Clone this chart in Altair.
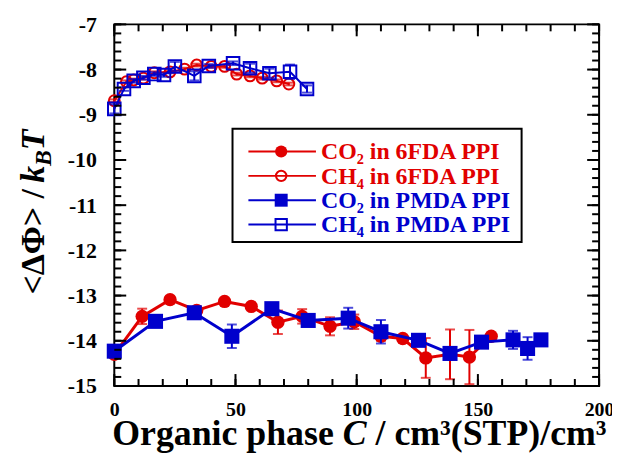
import altair as alt
import pandas as pd

# CO2 in 6FDA PPI (filled red circles)
co2_6fda_x = [0, 11.5, 23, 34, 45.5, 56.5, 67.5, 77.5, 89, 99, 110, 119, 128.5, 138.5, 146.5, 155.5]
co2_6fda_y = [-14.3, -13.46, -13.09, -13.33, -13.13, -13.24, -13.59, -13.46, -13.68, -13.58,
              -13.9, -13.95, -14.38, -14.3, -14.36, -13.9]
co2_6fda_err = [0.05, 0.17, 0.04, 0.04, 0.04, 0.04, 0.26, 0.16, 0.2, 0.16, 0.1, 0.04, 0.44, 0.55, 0.6, 0.04]

# CH4 in 6FDA PPI (open red circles)
ch4_6fda_x = [0, 5, 8, 12, 16.5, 23, 29, 34, 40, 45.5, 50.5, 56, 61, 67, 72]
ch4_6fda_y = [-8.69, -8.27, -8.23, -8.19, -8.07, -8.05, -7.99, -7.9, -7.93, -7.93,
              -8.1, -8.14, -8.19, -8.25, -8.32]
ch4_6fda_err = [0.03] * 15

# CO2 in PMDA PPI (filled blue squares)
co2_pmda_x = [0, 17, 33, 48.5, 65, 80, 96.5, 110, 125.5, 138.5, 151.5, 164.5, 170.5, 176]
co2_pmda_y = [-14.23, -13.57, -13.38, -13.9, -13.29, -13.55, -13.5, -13.8, -13.99, -14.28,
              -14.03, -13.98, -14.17, -13.98]
co2_pmda_err = [0.05, 0.04, 0.04, 0.26, 0.04, 0.04, 0.23, 0.26, 0.04, 0.04, 0.04, 0.2, 0.25, 0.04]

# CH4 in PMDA PPI (open blue squares)
ch4_pmda_x = [0, 4, 8, 12, 16.5, 20.5, 25, 33, 39, 49, 56, 64, 72.5, 79.5]
ch4_pmda_y = [-8.87, -8.43, -8.25, -8.18, -8.1, -8.12, -7.93, -8.14, -7.92, -7.86,
              -7.97, -8.08, -8.05, -8.43]
ch4_pmda_err = [0.1, 0.04, 0.04, 0.04, 0.04, 0.04, 0.1, 0.1, 0.04, 0.04, 0.1, 0.1, 0.16, 0.08]

x_major = [0, 50, 100, 150, 200]
x_minor = list(range(0, 201, 10))
y_major = [-15, -14, -13, -12, -11, -10, -9, -8, -7]
y_minor = [v / 10 for v in range(-150, -69, 2)]

legend_labels = ["CO₂ in 6FDA PPI", "CH₄ in 6FDA PPI", "CO₂ in PMDA PPI", "CH₄ in PMDA PPI"]

RED = "#e10000"
BLUE = "#0000cc"
FONT = "Liberation Serif"
W, H = 488, 364

x_scale = alt.Scale(domain=[0, 200], nice=False, zero=False)
y_scale = alt.Scale(domain=[-15, -7], nice=False, zero=False)
x_axis = alt.Axis(values=x_major, ticks=False, domain=False, grid=False, title=None,
                  labelFont=FONT, labelFontWeight="bold", labelFontSize=20,
                  labelPadding=14, labelColor="black", labelFlush=False)
y_axis = alt.Axis(values=y_major, ticks=False, domain=False, grid=False, title=None,
                  labelFont=FONT, labelFontWeight="bold", labelFontSize=22,
                  labelPadding=18, labelColor="black", labelFlush=False,
                  labelExpr="'' + datum.value")


def series(x, y, err, color, shape, filled, size, line_w):
    df = pd.DataFrame({"x": x, "y": y, "err": err})
    base = alt.Chart(df).transform_calculate(
        lo="datum.y - datum.err", hi="datum.y + datum.err")
    X = alt.X("x:Q", scale=x_scale, axis=x_axis)
    line = base.mark_line(color=color, strokeWidth=line_w).encode(
        X, alt.Y("y:Q", scale=y_scale, axis=y_axis))
    bar = base.mark_rule(color=color, strokeWidth=2).encode(
        X, alt.Y("lo:Q", scale=y_scale, axis=y_axis), alt.Y2("hi:Q"))
    cap_lo = base.mark_tick(color=color, thickness=2, size=10, orient="horizontal").encode(
        X, alt.Y("lo:Q", scale=y_scale, axis=y_axis))
    cap_hi = base.mark_tick(color=color, thickness=2, size=10, orient="horizontal").encode(
        X, alt.Y("hi:Q", scale=y_scale, axis=y_axis))
    pts = base.mark_point(shape=shape, filled=filled, color=color, size=size,
                          strokeWidth=2, opacity=1).encode(
        X, alt.Y("y:Q", scale=y_scale, axis=y_axis))
    return [line, bar, cap_lo, cap_hi, pts]


layers = []
layers += series(co2_6fda_x, co2_6fda_y, co2_6fda_err, RED, "circle", True, 180, 3)
layers += series(ch4_6fda_x, ch4_6fda_y, ch4_6fda_err, RED, "circle", False, 120, 2)
layers += series(co2_pmda_x, co2_pmda_y, co2_pmda_err, BLUE, "square", True, 230, 3)
layers += series(ch4_pmda_x, ch4_pmda_y, ch4_pmda_err, BLUE, "square", False, 160, 2)

# inward ticks on all four sides
def xticks(vals, length):
    df = pd.DataFrame({"v": vals})
    X = alt.X("v:Q", scale=x_scale, axis=x_axis)
    bot = alt.Chart(df).mark_rule(color="black", strokeWidth=2).encode(
        X, y=alt.value(H - length), y2=alt.value(H))
    top = alt.Chart(df).mark_rule(color="black", strokeWidth=2).encode(
        X, y=alt.value(0), y2=alt.value(length))
    return [bot, top]


def yticks(vals, length):
    df = pd.DataFrame({"v": vals})
    Y = alt.Y("v:Q", scale=y_scale, axis=y_axis)
    left = alt.Chart(df).mark_rule(color="black", strokeWidth=2).encode(
        Y, x=alt.value(0), x2=alt.value(length))
    right = alt.Chart(df).mark_rule(color="black", strokeWidth=2).encode(
        Y, x=alt.value(W - length), x2=alt.value(W))
    return [left, right]


layers += xticks(x_minor, 7) + xticks(x_major, 12)
layers += yticks(y_minor, 7) + yticks(y_major, 12)

# legend box
one = pd.DataFrame({"t": [""]})
layers.append(alt.Chart(one).mark_rect(fill="white", stroke="black", strokeWidth=2).encode(
    x=alt.value(119), x2=alt.value(410), y=alt.value(105), y2=alt.value(219)))

leg_style = [(RED, "circle", True, 150), (RED, "circle", False, 110),
             (BLUE, "square", True, 170), (BLUE, "square", False, 130)]
for i, (label, (color, shape, filled, size)) in enumerate(zip(legend_labels, leg_style)):
    py = 128 + i * 24.5
    layers.append(alt.Chart(one).mark_rule(color=color, strokeWidth=2).encode(
        x=alt.value(135), x2=alt.value(203), y=alt.value(py)))
    layers.append(alt.Chart(one).mark_point(shape=shape, filled=filled, color=color,
                                            size=size, strokeWidth=2, opacity=1).encode(
        x=alt.value(168), y=alt.value(py)))
    layers.append(alt.Chart(pd.DataFrame({"t": [label]})).mark_text(
        align="left", baseline="middle", font=FONT, fontWeight="bold", fontSize=24,
        color=color).encode(x=alt.value(208), y=alt.value(py + 1), text="t:N"))

# axis titles built from pieces (italic symbols)
FS = 36
FSY = 34


def txt(s, x, y, size=FS, style="normal", angle=0, align="left"):
    return alt.Chart(pd.DataFrame({"t": [s]})).mark_text(
        align=align, baseline="alphabetic", font=FONT, fontWeight="bold", fontSize=size,
        fontStyle=style, angle=angle, color="black").encode(
        x=alt.value(x), y=alt.value(y), text="t:N")


xb = 423
x0 = -2
c_pos = x0 + (6.195 + 0.25) * FS
rest = c_pos + (0.667 + 0.25) * FS
layers.append(txt("Organic phase", x0, xb))
layers.append(txt("C", c_pos, xb, style="italic"))
layers.append(txt("/ cm³(STP)/cm³", rest, xb))

yb = -71
y0 = 272
k_pos = y0 - (3.058 + 0.25) * FSY
b_pos = k_pos - 0.5 * FSY
t_pos = b_pos - 0.667 * 0.7 * FSY
layers.append(txt("<ΔΦ> /", yb, y0, size=FSY, angle=270))
layers.append(txt("k", yb, k_pos, size=FSY, style="italic", angle=270))
layers.append(txt("B", yb + 7, b_pos, size=round(0.7 * FSY), style="italic", angle=270))
layers.append(txt("T", yb, t_pos, size=FSY, style="italic", angle=270))

chart = alt.layer(*layers).properties(
    width=W, height=H,
    autosize=alt.AutoSizeParams(type="none"),
    padding={"left": 107, "top": 15, "right": 13, "bottom": 68},
).configure_view(stroke="black", strokeWidth=2)

chart.save("out.html", embed_options={"renderer": "svg", "actions": False})
